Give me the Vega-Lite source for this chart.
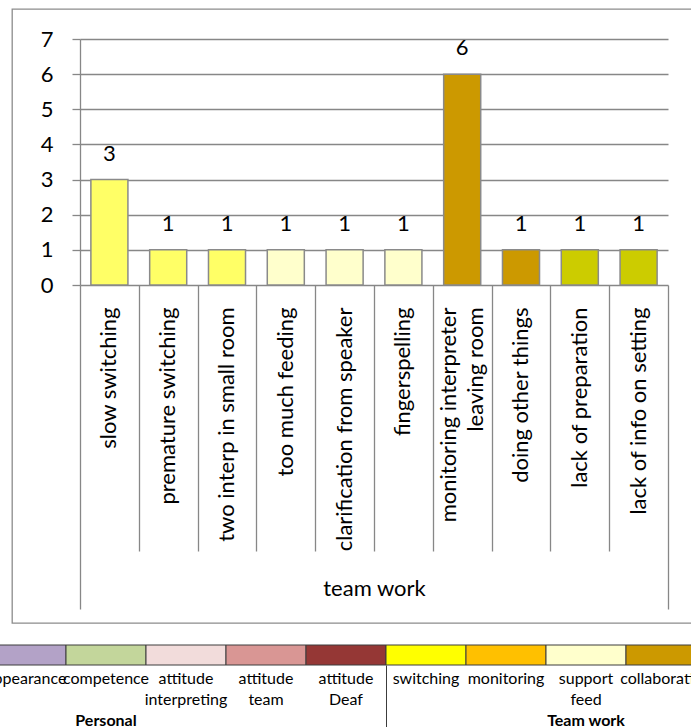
{
  "$schema": "https://vega.github.io/schema/vega-lite/v6.json",
  "background": "white",
  "padding": {"left": -15, "top": 8, "right": 0, "bottom": 0},
  "spacing": 20,
  "config": {
    "font": "Lato",
    "axis": {"labelFont": "Lato", "titleFont": "Lato", "labelColor": "black", "titleColor": "black"}
  },
  "resolve": {"scale": {"color": "independent"}},
  "datasets": {
    "problems": [
      {"problem": "slow switching", "count": 3, "theme": "switching"},
      {"problem": "premature switching", "count": 1, "theme": "switching"},
      {"problem": "two interp in small room", "count": 1, "theme": "switching"},
      {"problem": "too much feeding", "count": 1, "theme": "feeding"},
      {"problem": "clarification from speaker", "count": 1, "theme": "feeding"},
      {"problem": "fingerspelling", "count": 1, "theme": "feeding"},
      {"problem": "monitoring interpreter|leaving room", "count": 6, "theme": "monitoring"},
      {"problem": "doing other things", "count": 1, "theme": "monitoring"},
      {"problem": "lack of preparation", "count": 1, "theme": "preparation"},
      {"problem": "lack of info on setting", "count": 1, "theme": "preparation"}
    ],
    "legendItems": [
      {"item": "appearance"},
      {"item": "competence"},
      {"item": "attitude interpreting"},
      {"item": "attitude team"},
      {"item": "attitude Deaf"},
      {"item": "switching"},
      {"item": "monitoring"},
      {"item": "support feed"},
      {"item": "collaboration"}
    ],
    "legendGroups": [
      {"group": "Personal", "item": "competence"},
      {"group": "Team work", "item": "support feed"}
    ]
  },
  "vconcat": [
    {
      "width": 740,
      "height": 614,
      "view": {"stroke": "#8c8c8c", "strokeWidth": 1.3},
      "data": {"name": "problems"},
      "encoding": {
        "y": {
          "field": "count",
          "type": "quantitative",
          "scale": {"domain": [0, 7], "range": [276, 30]},
          "axis": {
            "offset": -68,
            "values": [0, 1, 2, 3, 4, 5, 6, 7],
            "title": null,
            "grid": true,
            "gridColor": "#878787",
            "gridWidth": 1.3,
            "domainColor": "#878787",
            "domainWidth": 1.3,
            "tickColor": "#878787",
            "tickWidth": 1.3,
            "tickSize": 8,
            "labelFontSize": 22,
            "labelPadding": 19
          }
        }
      },
      "layer": [
        {
          "mark": {"type": "bar", "width": {"band": 0.63}, "stroke": "#8a8a8a", "strokeWidth": 1.5},
          "encoding": {
            "x": {
              "field": "problem",
              "type": "nominal",
              "sort": null,
              "scale": {"range": [68, 656], "paddingInner": 0, "paddingOuter": 0},
              "axis": {
                "orient": "bottom",
                "offset": -338,
                "title": "team work",
                "titleFontSize": 22,
                "titleFontWeight": "normal",
                "titleY": 303,
                "titleBaseline": "middle",
                "ticks": false,
                "domain": false,
                "grid": false,
                "labelAngle": -90,
                "labelFontSize": 22,
                "labelPadding": 22,
                "labelLimit": 400,
                "labelLineHeight": 27,
                "labelOffset": {
                  "condition": {"test": "datum.value === 'monitoring interpreter|leaving room'", "value": -13},
                  "value": 0
                },
                "labelExpr": "split(datum.label, '|')"
              }
            },
            "color": {
              "field": "theme",
              "type": "nominal",
              "scale": {
                "domain": ["switching", "feeding", "monitoring", "preparation"],
                "range": ["#FFFF66", "#FFFFCC", "#CC9900", "#CCCC00"]
              },
              "legend": null
            }
          }
        },
        {
          "mark": {"type": "text", "fontSize": 22, "baseline": "middle", "dy": -26, "color": "black"},
          "encoding": {
            "x": {
              "field": "problem",
              "type": "nominal",
              "sort": null,
              "axis": {
                "orient": "bottom",
                "offset": -338,
                "title": null,
                "labels": false,
                "domain": false,
                "grid": false,
                "tickBand": "extent",
                "tickColor": "#878787",
                "tickWidth": 1.3,
                "tickSize": {
                  "condition": {"test": "datum.index === -1 || datum.value === 'lack of info on setting'", "value": 324},
                  "value": 266
                }
              }
            },
            "text": {"field": "count", "type": "quantitative"}
          }
        }
      ],
      "resolve": {"axis": {"x": "independent"}}
    },
    {
      "width": 679,
      "height": 20,
      "view": {"stroke": null},
      "encoding": {
        "y": {"datum": "swatch", "type": "nominal", "scale": {"paddingInner": 0, "paddingOuter": 0}, "axis": null}
      },
      "layer": [
        {
          "data": {"name": "legendItems"},
          "mark": {"type": "rect", "stroke": "#3c3c3c", "strokeWidth": 1},
          "encoding": {
            "x": {
              "field": "item",
              "type": "nominal",
              "sort": null,
              "scale": {
                "domain": ["appearance", "competence", "attitude interpreting", "attitude team", "attitude Deaf", "switching", "monitoring", "support feed", "collaboration"],
                "range": [-26, 694],
                "paddingInner": 0,
                "paddingOuter": 0
              },
              "axis": {
                "orient": "bottom",
                "title": null,
                "ticks": false,
                "domain": false,
                "grid": false,
                "labelAngle": 0,
                "labelFontSize": 16,
                "labelBaseline": "top",
                "labelPadding": 5,
                "labelLineHeight": 21,
                "labelExpr": "split(datum.label, ' ')"
              }
            },
            "color": {
              "field": "item",
              "type": "nominal",
              "scale": {
                "domain": ["appearance", "competence", "attitude interpreting", "attitude team", "attitude Deaf", "switching", "monitoring", "support feed", "collaboration"],
                "range": ["#B3A2C7", "#C3D69B", "#F2DCDB", "#D99694", "#953735", "#FFFF00", "#FFC000", "#FFFFCC", "#CC9900"]
              },
              "legend": null
            }
          }
        },
        {
          "data": {"name": "legendGroups"},
          "mark": {"type": "text", "fontSize": 16, "fontWeight": "bold", "baseline": "middle", "dy": 66, "color": "black"},
          "encoding": {
            "x": {
              "field": "item",
              "type": "nominal",
              "sort": null,
              "axis": {
                "orient": "bottom",
                "title": null,
                "labels": false,
                "domain": false,
                "grid": false,
                "tickBand": "extent",
                "tickColor": "#3c3c3c",
                "tickWidth": 1,
                "tickSize": 70,
                "tickOpacity": {
                  "condition": {"test": "datum.value === 'attitude Deaf'", "value": 1},
                  "value": 0
                }
              }
            },
            "text": {"field": "group", "type": "nominal"}
          }
        }
      ],
      "resolve": {"axis": {"x": "independent"}}
    }
  ]
}
